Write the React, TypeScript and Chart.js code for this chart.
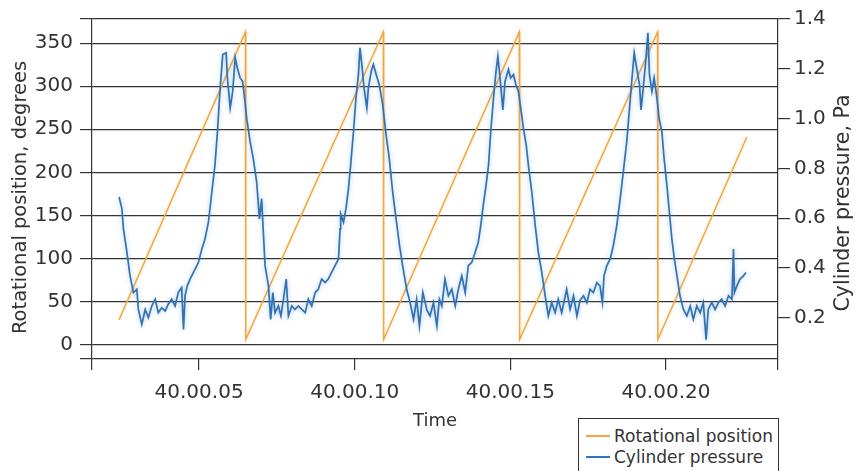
import React, { useEffect, useRef } from 'react';
import { Chart, registerables } from 'chart.js';

Chart.register(...registerables);

// ---- axis ranges and ticks ----
const xMinMs = 15.6;
const xMaxMs = 236.0;
const xTickMs = [50, 100, 150, 200];
const leftMin = -16.6;
const leftMax = 378;
const leftTicks = [0, 50, 100, 150, 200, 250, 300, 350];
const rightMin = 0.034;
const rightMax = 1.4;
const rightTicks = [0.2, 0.4, 0.6, 0.8, 1.0, 1.2, 1.4];

// ---- Rotational position (degrees) ----
const rotationTimeMs = [24.3, 64.9, 65.0, 109.2, 109.3, 152.9, 153.0, 197.3, 197.4, 226.0];
const rotationDeg = [29, 363, 6, 363, 6, 363, 6, 363, 6, 241];

// ---- Cylinder pressure (Pa) ----
const pressureTimeMs = [
  24.3, 25.2, 25.7, 26.8, 27.8, 28.9, 30.0, 30.5, 31.6, 32.7,
  33.7, 34.8, 35.9, 36.9, 38.0, 39.1, 40.1, 41.2, 42.3, 43.3,
  44.4, 45.0, 45.5, 46.2, 47.1, 48.2, 49.8, 50.9, 51.9, 53.0,
  54.1, 55.1, 55.9, 56.7, 57.6, 58.7, 59.1, 60.0, 60.8, 61.6,
  62.3, 63.2, 64.0, 64.5, 65.3, 66.4, 67.4, 68.5, 69.4, 70.1,
  70.7, 71.2, 72.3, 73.0, 73.7, 74.4, 75.5, 76.3, 77.1, 78.0,
  78.7, 79.8, 80.8, 81.9, 83.0, 84.1, 85.1, 86.2, 87.3, 88.3,
  89.4, 90.5, 91.5, 92.6, 93.7, 94.8, 95.3, 95.5, 96.4, 97.2,
  98.0, 98.7, 99.6, 100.4, 101.2, 101.7, 102.3, 103.0, 103.9, 104.4,
  105.3, 106.0, 106.9, 107.9, 109.0, 110.1, 111.1, 112.2, 113.3, 114.4,
  115.4, 116.7, 117.8, 118.9, 119.9, 120.8, 121.9, 123.2, 124.2, 125.3,
  126.4, 127.2, 128.0, 129.0, 130.1, 131.2, 132.3, 133.3, 134.4, 135.5,
  136.5, 137.6, 138.7, 139.7, 140.5, 141.3, 142.2, 143.0, 143.7, 144.6,
  145.4, 146.0, 146.7, 147.6, 148.3, 149.4, 150.1, 151.0, 151.8, 152.6,
  153.5, 154.2, 155.1, 155.8, 156.9, 158.0, 159.0, 160.1, 161.2, 162.2,
  163.3, 164.4, 165.4, 166.5, 168.1, 169.2, 170.3, 171.4, 172.4, 173.5,
  174.6, 175.6, 176.7, 177.8, 178.8, 179.6, 180.1, 181.0, 182.1, 183.1,
  184.2, 185.3, 186.3, 187.4, 188.3, 189.0, 189.8, 190.6, 191.5, 192.0,
  192.8, 193.6, 194.2, 194.7, 195.5, 196.2, 197.1, 197.8, 198.7, 199.4,
  200.3, 201.1, 201.9, 202.7, 203.7, 204.5, 205.6, 206.7, 207.8, 208.8,
  209.9, 211.0, 212.0, 212.9, 213.6, 214.7, 215.8, 216.9, 217.9, 219.0,
  220.1, 221.2, 221.7, 222.0, 222.8, 223.8, 224.9, 225.7,
];
const pressurePa = [
  0.685, 0.638, 0.557, 0.463, 0.370, 0.301, 0.314, 0.233, 0.173, 0.233,
  0.200, 0.247, 0.274, 0.220, 0.240, 0.227, 0.254, 0.274, 0.247, 0.301,
  0.321, 0.153, 0.288, 0.328, 0.355, 0.382, 0.422, 0.476, 0.516, 0.584,
  0.705, 0.813, 0.947, 1.109, 1.257, 1.264, 1.163, 1.042, 1.109, 1.244,
  1.203, 1.163, 1.149, 1.096, 1.001, 0.907, 0.840, 0.745, 0.597, 0.678,
  0.530, 0.409, 0.328, 0.193, 0.301, 0.220, 0.247, 0.207, 0.274, 0.355,
  0.207, 0.247, 0.233, 0.247, 0.233, 0.220, 0.274, 0.247, 0.301, 0.314,
  0.355, 0.341, 0.355, 0.382, 0.409, 0.436, 0.557, 0.617, 0.584, 0.638,
  0.718, 0.813, 0.947, 1.082, 1.177, 1.284, 1.217, 1.122, 1.042, 1.122,
  1.190, 1.217, 1.177, 1.136, 1.055, 0.934, 0.840, 0.705, 0.597, 0.490,
  0.409, 0.314, 0.261, 0.193, 0.274, 0.166, 0.301, 0.230, 0.207, 0.261,
  0.166, 0.274, 0.247, 0.355, 0.288, 0.314, 0.247, 0.314, 0.368, 0.301,
  0.409, 0.422, 0.463, 0.503, 0.570, 0.651, 0.732, 0.813, 0.947, 1.082,
  1.190, 1.251, 1.163, 1.035, 1.149, 1.197, 1.163, 1.177, 1.136, 1.109,
  1.028, 0.961, 0.894, 0.813, 0.705, 0.570, 0.463, 0.382, 0.288, 0.207,
  0.261, 0.220, 0.274, 0.220, 0.314, 0.233, 0.288, 0.207, 0.270, 0.288,
  0.260, 0.314, 0.301, 0.341, 0.328, 0.261, 0.368, 0.409, 0.436, 0.490,
  0.570, 0.678, 0.786, 0.907, 1.042, 1.149, 1.264, 1.203, 1.136, 1.035,
  1.136, 1.244, 1.345, 1.177, 1.109, 1.163, 1.082, 1.001, 0.947, 0.840,
  0.732, 0.624, 0.516, 0.436, 0.355, 0.288, 0.233, 0.207, 0.247, 0.193,
  0.247, 0.220, 0.261, 0.112, 0.233, 0.261, 0.233, 0.261, 0.274, 0.247,
  0.288, 0.274, 0.476, 0.301, 0.328, 0.355, 0.368, 0.382,
];

const seriesNames = ['Rotational position', 'Cylinder pressure'];
const axisTitles = ['Time', 'Rotational position, degrees', 'Cylinder pressure, Pa'];

const ORANGE = '#f2a541';
const BLUE = '#3272b0';
const INK = '#333333';
const FONT = '"DejaVu Sans", "Liberation Sans", sans-serif';

const zeroPad = (s: any) => {
  s.paddingTop = 0;
  s.paddingBottom = 0;
  s.paddingLeft = 0;
  s.paddingRight = 0;
};

const glowPlugin = {
  id: 'glow',
  beforeDatasetDraw(chart: any, args: any) {
    const ctx = chart.ctx;
    ctx.save();
    if (args.meta.yAxisID === 'y1') {
      ctx.shadowColor = 'rgba(110,165,225,0.6)';
      ctx.shadowBlur = 5;
    } else {
      ctx.shadowColor = 'rgba(245,180,90,0.35)';
      ctx.shadowBlur = 3;
    }
  },
  afterDatasetDraw(chart: any) {
    chart.ctx.restore();
  },
};

const yTitlePlugin = {
  id: 'yTitles',
  afterDraw(chart: any) {
    const ctx = chart.ctx;
    ctx.save();
    ctx.fillStyle = INK;
    ctx.textAlign = 'center';
    ctx.textBaseline = 'alphabetic';
    ctx.font = `19.5px ${FONT}`;
    ctx.translate(26, 197.5);
    ctx.rotate(-Math.PI / 2);
    ctx.fillText(axisTitles[1], 0, 0);
    ctx.restore();

    ctx.save();
    ctx.fillStyle = INK;
    ctx.textAlign = 'center';
    ctx.textBaseline = 'alphabetic';
    ctx.font = `20.5px ${FONT}`;
    ctx.translate(849, 203);
    ctx.rotate(-Math.PI / 2);
    ctx.fillText(axisTitles[2], 0, 0);
    ctx.restore();
  },
};

export default function App() {
  const canvasRef = useRef<HTMLCanvasElement | null>(null);

  useEffect(() => {
    const canvas = canvasRef.current;
    if (!canvas) return;
    const rotationData = rotationTimeMs.map((t, i) => ({ x: t, y: rotationDeg[i] }));
    const pressureData = pressureTimeMs.map((t, i) => ({ x: t, y: pressurePa[i] }));

    const chart = new Chart(canvas, {
      type: 'line',
      data: {
        datasets: [
          {
            label: seriesNames[1],
            data: pressureData,
            yAxisID: 'y1',
            borderColor: BLUE,
            borderWidth: 1.7,
            pointRadius: 0,
            tension: 0,
            order: 0,
          },
          {
            label: seriesNames[0],
            data: rotationData,
            yAxisID: 'y',
            borderColor: ORANGE,
            borderWidth: 1.5,
            pointRadius: 0,
            tension: 0,
            order: 1,
          },
        ],
      },
      options: {
        animation: false,
        responsive: false,
        devicePixelRatio: 1,
        parsing: true,
        layout: { padding: { top: 19, left: 0, right: 0, bottom: 0 } },
        plugins: {
          legend: { display: false },
          tooltip: { enabled: false },
        },
        scales: {
          x: {
            type: 'linear',
            position: 'bottom',
            min: xMinMs,
            max: xMaxMs,
            afterBuildTicks: (s: any) => {
              s.ticks = [xMinMs, ...xTickMs, xMaxMs].map((v) => ({ value: v }));
            },
            afterFit: (s: any) => {
              s.height = 112;
              zeroPad(s);
            },
            ticks: {
              autoSkip: false,
              maxRotation: 0,
              padding: 11,
              color: INK,
              font: { family: FONT, size: 20 },
              callback: (v: any) =>
                xTickMs.includes(v) ? '40.00.' + String(v / 10).padStart(2, '0') : '',
            },
            grid: {
              drawOnChartArea: false,
              drawTicks: true,
              tickLength: 11,
              color: INK,
              lineWidth: 1.2,
            },
            border: { display: false },
            title: {
              display: true,
              text: axisTitles[0],
              color: INK,
              font: { family: FONT, size: 18 },
              padding: { top: 0, bottom: 39 },
            },
          },
          y: {
            type: 'linear',
            position: 'left',
            min: leftMin,
            max: leftMax,
            afterBuildTicks: (s: any) => {
              s.ticks = [leftMin, ...leftTicks, leftMax].map((v) => ({ value: v }));
            },
            afterFit: (s: any) => {
              s.width = 92;
              zeroPad(s);
            },
            ticks: {
              autoSkip: false,
              padding: 7,
              color: INK,
              font: { family: FONT, size: 20 },
              callback: (v: any) => (leftTicks.includes(v) ? String(v) : ''),
            },
            grid: {
              drawOnChartArea: true,
              drawTicks: true,
              tickLength: 12,
              color: INK,
              lineWidth: 1.2,
            },
            border: { display: true, color: INK, width: 1.2 },
          },
          y1: {
            type: 'linear',
            position: 'right',
            min: rightMin,
            max: rightMax,
            afterBuildTicks: (s: any) => {
              s.ticks = rightTicks.map((v) => ({ value: v }));
            },
            afterFit: (s: any) => {
              s.width = 77;
              zeroPad(s);
            },
            ticks: {
              autoSkip: false,
              padding: 4,
              color: INK,
              font: { family: FONT, size: 20 },
              callback: (v: any) => Number(v).toFixed(1),
            },
            grid: {
              drawOnChartArea: false,
              drawTicks: true,
              tickLength: 12,
              color: INK,
              lineWidth: 1.2,
            },
            border: { display: true, color: INK, width: 1.2 },
          },
        },
      },
      plugins: [glowPlugin, yTitlePlugin],
    } as any);

    return () => chart.destroy();
  }, []);

  const textStyle: React.CSSProperties = {
    position: 'absolute',
    left: 614,
    fontFamily: FONT,
    fontSize: 17,
    lineHeight: '22px',
    height: 22,
    color: INK,
    whiteSpace: 'nowrap',
  };

  return (
    <div
      style={{
        position: 'fixed',
        left: 0,
        top: 0,
        width: 855,
        height: 471,
        overflow: 'hidden',
        background: '#ffffff',
      }}
    >
      <canvas ref={canvasRef} width={855} height={471} style={{ display: 'block' }} />
      <div
        style={{
          position: 'absolute',
          left: 578,
          top: 418,
          width: 201,
          height: 80,
          boxSizing: 'border-box',
          border: `1.5px solid ${INK}`,
          background: '#ffffff',
        }}
      />
      <div style={{ position: 'absolute', left: 586, top: 435, width: 24, height: 2, background: ORANGE }} />
      <div style={{ ...textStyle, top: 425 }}>{seriesNames[0]}</div>
      <div style={{ position: 'absolute', left: 586, top: 456, width: 24, height: 2, background: '#2a78bd' }} />
      <div style={{ ...textStyle, top: 446 }}>{seriesNames[1]}</div>
    </div>
  );
}
